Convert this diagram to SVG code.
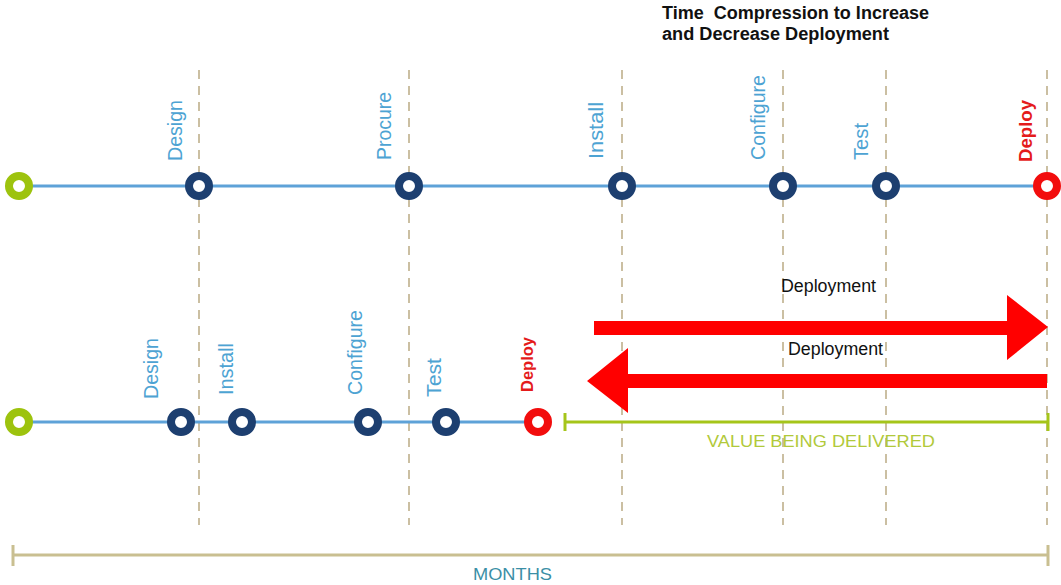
<svg xmlns="http://www.w3.org/2000/svg" width="1061" height="585" viewBox="0 0 1061 585">
  <style>
    .grid { stroke: #cbbfa2; stroke-width: 2; stroke-dasharray: 9 7; fill: none; }
    .track { stroke: #5ea2d8; stroke-width: 3; fill: none; }
    .ms { fill: #ffffff; stroke-width: 8; }
    .start { stroke: #9dc30e; }
    .step { stroke: #1d3f70; }
    .end { stroke: #f20d0d; }
    .lbl { font-family: "Liberation Sans", Arial, sans-serif; font-size: 19.5px; fill: #4da3d3; }
    .lbl-red { font-family: "Liberation Sans", Arial, sans-serif; font-size: 18.5px; font-weight: bold; fill: #e41b1b; }
    .title { font-family: "Liberation Sans", Arial, sans-serif; font-size: 18px; font-weight: bold; fill: #111111; white-space: pre; }
    .note { font-family: "Liberation Sans", Arial, sans-serif; font-size: 18px; fill: #111111; }
    .arrow { fill: #ff0000; }
  </style>

  <rect width="1061" height="585" fill="#ffffff"/>

  <!-- month grid -->
  <g id="grid">
    <line class="grid" x1="199" y1="70" x2="199" y2="525"/>
    <line class="grid" x1="409" y1="70" x2="409" y2="525"/>
    <line class="grid" x1="622" y1="70" x2="622" y2="525"/>
    <line class="grid" x1="783" y1="70" x2="783" y2="525"/>
    <line class="grid" x1="886" y1="70" x2="886" y2="525"/>
    <line class="grid" x1="1047" y1="70" x2="1047" y2="525"/>
  </g>

  <g id="title">
    <text class="title" x="662" y="19" xml:space="preserve" textLength="267" lengthAdjust="spacingAndGlyphs">Time  Compression to Increase</text>
    <text class="title" x="662" y="40" textLength="227" lengthAdjust="spacingAndGlyphs">and Decrease Deployment</text>
  </g>

  <!-- connectors -->
  <g id="connectors">
    <line class="track" x1="19" y1="186" x2="1047" y2="186"/>
    <line class="track" x1="19" y1="422" x2="538" y2="422"/>
    <polygon class="arrow" points="594,321 1007,321 1007,295 1048,327 1007,360 1007,335 594,335"/>
    <polygon class="arrow" points="1047,374 628,374 628,348 587,381 628,413 628,388 1047,388"/>
  </g>

  <!-- current schedule -->
  <g id="top-start"><circle class="ms start" cx="19" cy="186" r="10"/></g>
  <g id="top-design"><circle class="ms step" cx="199" cy="186" r="10"/>
    <text class="lbl" transform="translate(182,161) rotate(-90)" textLength="61" lengthAdjust="spacingAndGlyphs">Design</text></g>
  <g id="top-procure"><circle class="ms step" cx="409" cy="186" r="10"/>
    <text class="lbl" transform="translate(391,160) rotate(-90)" textLength="68" lengthAdjust="spacingAndGlyphs">Procure</text></g>
  <g id="top-install"><circle class="ms step" cx="622" cy="186" r="10"/>
    <text class="lbl" transform="translate(603,159) rotate(-90)" textLength="57" lengthAdjust="spacingAndGlyphs">Install</text></g>
  <g id="top-configure"><circle class="ms step" cx="783" cy="186" r="10"/>
    <text class="lbl" transform="translate(765,160) rotate(-90)" textLength="85" lengthAdjust="spacingAndGlyphs">Configure</text></g>
  <g id="top-test"><circle class="ms step" cx="886" cy="186" r="10"/>
    <text class="lbl" transform="translate(868,160) rotate(-90)" textLength="37" lengthAdjust="spacingAndGlyphs">Test</text></g>
  <g id="top-deploy"><circle class="ms end" cx="1047" cy="186" r="10"/>
    <text class="lbl-red" transform="translate(1032,162) rotate(-90)" textLength="62" lengthAdjust="spacingAndGlyphs">Deploy</text></g>

  <!-- compressed schedule -->
  <g id="bottom-start"><circle class="ms start" cx="19" cy="422" r="10"/></g>
  <g id="bottom-design"><circle class="ms step" cx="181" cy="422" r="10"/>
    <text class="lbl" transform="translate(158,399) rotate(-90)" textLength="61" lengthAdjust="spacingAndGlyphs">Design</text></g>
  <g id="bottom-install"><circle class="ms step" cx="242" cy="422" r="10"/>
    <text class="lbl" transform="translate(233,395) rotate(-90)" textLength="52" lengthAdjust="spacingAndGlyphs">Install</text></g>
  <g id="bottom-configure"><circle class="ms step" cx="368" cy="422" r="10"/>
    <text class="lbl" transform="translate(362,395) rotate(-90)" textLength="85" lengthAdjust="spacingAndGlyphs">Configure</text></g>
  <g id="bottom-test"><circle class="ms step" cx="446" cy="422" r="10"/>
    <text class="lbl" transform="translate(441,397) rotate(-90)" textLength="39" lengthAdjust="spacingAndGlyphs">Test</text></g>
  <g id="bottom-deploy"><circle class="ms end" cx="538" cy="422" r="10"/>
    <text class="lbl-red" transform="translate(533,392) rotate(-90)" style="font-size:16.5px" textLength="55" lengthAdjust="spacingAndGlyphs">Deploy</text></g>

  <g id="deployment-labels">
    <text class="note" x="781" y="292" textLength="95" lengthAdjust="spacingAndGlyphs">Deployment</text>
    <text class="note" x="788" y="355" textLength="95" lengthAdjust="spacingAndGlyphs">Deployment</text>
  </g>

  <!-- value span -->
  <g id="value" stroke="#a5c51a" stroke-width="3">
    <line x1="565" y1="422" x2="1048" y2="422"/>
    <line x1="565" y1="413" x2="565" y2="431"/>
    <line x1="1048" y1="413" x2="1048" y2="431"/>
    <text x="707" y="447" stroke="none" fill="#b1c93a" font-family="Liberation Sans, Arial, sans-serif" font-size="17" textLength="228" lengthAdjust="spacingAndGlyphs">VALUE BEING DELIVERED</text>
  </g>

  <!-- months span -->
  <g id="months" stroke="#c9bf91" stroke-width="3">
    <line x1="13" y1="555" x2="1048" y2="555"/>
    <line x1="13" y1="545" x2="13" y2="566"/>
    <line x1="1048" y1="545" x2="1048" y2="566"/>
    <text x="473" y="580" stroke="none" fill="#3b8fa6" font-family="Liberation Sans, Arial, sans-serif" font-size="17" textLength="79" lengthAdjust="spacingAndGlyphs">MONTHS</text>
  </g>
</svg>
